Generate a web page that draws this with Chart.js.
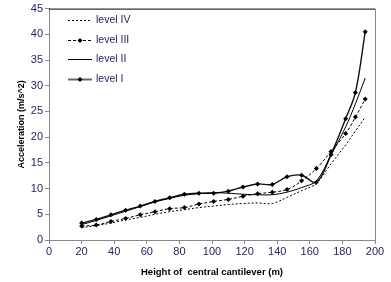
<!DOCTYPE html>
<html>
<head>
<meta charset="utf-8">
<script src="https://cdn.jsdelivr.net/npm/chart.js@4"></script>
<style>
  html, body { margin: 0; padding: 0; background: #fff; }
  #wrap { position: relative; width: 391px; height: 282px; }
</style>
</head>
<body>
<div id="wrap"><canvas id="chart" width="391" height="282"></canvas></div>
<script>
// --- Data ---
const heights = [20, 29, 38, 47, 56, 65, 74, 83, 92, 101, 110, 119, 128, 137, 146, 155, 164, 173, 182, 188, 194];
const level1 = [3.3, 4.0, 4.9, 5.8, 6.6, 7.5, 8.2, 8.9, 9.1, 9.1, 9.5, 10.3, 10.9, 10.8, 12.3, 12.6, 11.2, 16.6, 23.6, 28.7, 40.5];
const level2 = [3.0, 3.8, 4.7, 5.6, 6.5, 7.4, 8.1, 8.7, 9.0, 9.2, 9.1, 8.9, 8.8, 8.8, 9.3, 10.2, 11.5, 16.5, 22.0, 26.5, 31.5];
const level3 = [2.7, 2.9, 3.6, 4.2, 4.9, 5.5, 6.1, 6.3, 7.0, 7.5, 7.9, 8.5, 9.0, 9.3, 9.8, 11.5, 13.9, 17.2, 20.7, 23.9, 27.4];
const level4 = [2.4, 2.8, 3.3, 3.9, 4.4, 5.0, 5.5, 5.9, 6.3, 6.6, 6.9, 7.1, 7.2, 7.1, 8.3, 9.6, 11.0, 14.8, 18.5, 21.2, 23.9];
const seriesNames = ['level IV', 'level III', 'level II', 'level I'];

const tickColor = '#2a2260';
const toPts = (ys) => ys.map((y, i) => ({ x: heights[i], y }));

// --- Legend + frame drawn on canvas ---
const frameLegend = {
  id: 'frameLegend',
  afterDraw(chart) {
    const { ctx, chartArea: a } = chart;
    ctx.save();
    ctx.lineWidth = 1;
    ctx.strokeStyle = '#000';
    ctx.beginPath(); ctx.moveTo(a.left, a.top + 0.5); ctx.lineTo(a.right, a.top + 0.5); ctx.stroke();
    ctx.strokeStyle = '#888';
    ctx.beginPath(); ctx.moveTo(a.right + 0.5, a.top); ctx.lineTo(a.right + 0.5, a.bottom); ctx.stroke();

    // legend
    const x0 = 68, x1 = 92, tx = 96;
    const rows = [20, 40, 59, 79];
    chart.data.datasets.forEach((ds, i) => {
      const y = rows[i] + 0.5;
      ctx.strokeStyle = i === 3 ? '#666' : '#000';
      ctx.lineWidth = i === 3 ? 2 : 1;
      ctx.setLineDash(ds.borderDash || []);
      ctx.beginPath(); ctx.moveTo(x0, y); ctx.lineTo(x1, y); ctx.stroke();
      ctx.setLineDash([]);
      if (ds.pointRadius > 0) {
        ctx.fillStyle = '#000';
        ctx.beginPath();
        ctx.moveTo(80, y - 2.5); ctx.lineTo(82.5, y); ctx.lineTo(80, y + 2.5); ctx.lineTo(77.5, y);
        ctx.closePath(); ctx.fill();
      }
      ctx.fillStyle = tickColor;
      ctx.font = '10.5px "Liberation Sans", Arial';
      ctx.textBaseline = 'middle';
      ctx.fillText(ds.label, tx, y);
    });
    ctx.restore();
  }
};

new Chart(document.getElementById('chart'), {
  type: 'line',
  data: {
    datasets: [
      { label: seriesNames[0], data: toPts(level4), borderColor: '#000', borderWidth: 1, borderDash: [2, 2], pointRadius: 0 },
      { label: seriesNames[1], data: toPts(level3), borderColor: '#000', borderWidth: 1, borderDash: [3, 2], pointRadius: 2.5, pointStyle: 'rectRot', pointBackgroundColor: '#000', pointBorderWidth: 0 },
      { label: seriesNames[2], data: toPts(level2), borderColor: '#000', borderWidth: 1, pointRadius: 0 },
      { label: seriesNames[3], data: toPts(level1), borderColor: '#111', borderWidth: 1.4, pointRadius: 2.5, pointStyle: 'rectRot', pointBackgroundColor: '#000', pointBorderWidth: 0 }
    ]
  },
  options: {
    responsive: false,
    animation: false,
    layout: { padding: { top: 5, right: 16, left: 0, bottom: 0 } },
    elements: { line: { tension: 0.35 } },
    plugins: { legend: { display: false }, tooltip: { enabled: false } },
    scales: {
      x: {
        type: 'linear', min: 0, max: 200,
        ticks: { stepSize: 20, color: tickColor, font: { family: 'Liberation Sans', size: 11 }, padding: 1, maxRotation: 0 },
        grid: { drawOnChartArea: false, tickLength: 4, color: '#888' },
        border: { color: '#888' },
        title: { display: true, text: 'Height of  central cantilever (m)', color: '#000', font: { family: 'Liberation Sans', size: 9.5, weight: 'bold' }, padding: { top: 7 } },
        afterFit: (s) => { s.height = 42; }
      },
      y: {
        min: 0, max: 45,
        ticks: { stepSize: 5, color: tickColor, font: { family: 'Liberation Sans', size: 11 }, padding: 2 },
        grid: { drawOnChartArea: false, tickLength: 4, color: '#888' },
        border: { color: '#888' },
        title: { display: true, text: 'Acceleration (m/s^2)', color: '#000', font: { family: 'Liberation Sans', size: 9, weight: 'bold' }, padding: { top: 16, bottom: 2 } },
        afterFit: (s) => { s.width = 49; }
      }
    }
  },
  plugins: [frameLegend]
});
</script>
</body>
</html>
